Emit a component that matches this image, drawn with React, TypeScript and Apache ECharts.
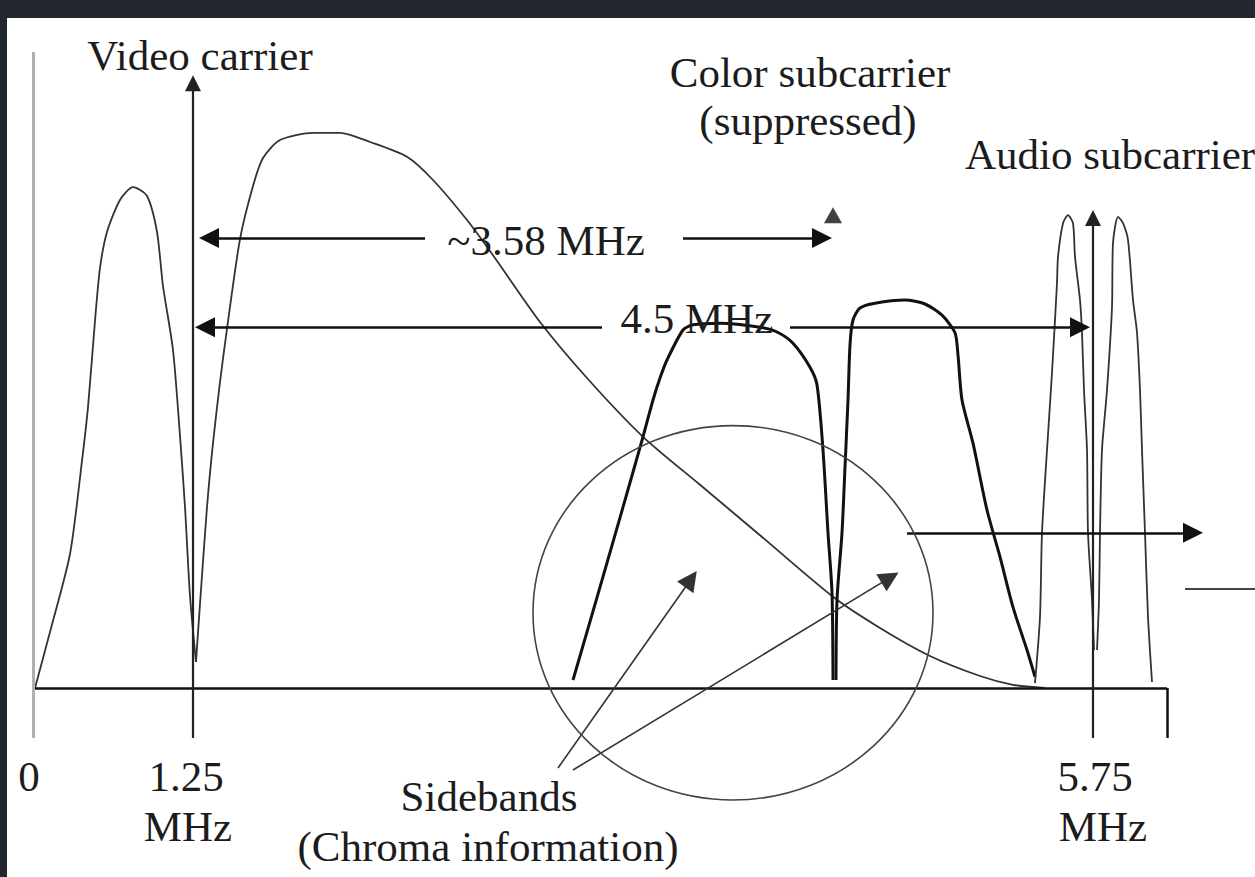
import React, { useEffect, useRef } from "react";
import * as echarts from "echarts";

// Diagram coordinates: x in MHz (schematic), y in relative amplitude.
const X_MIN = 0.285;
const X_MAX = 6.56;
const Y_MIN = -23.625;
const Y_MAX = 86;

// Video carrier: vestigial lower sideband lobe
const videoLowerLobe: [number, number][] = [
  [0.46, 0], [0.535, 7.0], [0.635, 16.75], [0.695, 28.4], [0.725, 35.1], [0.76, 45.9],
  [0.785, 52.5], [0.82, 57.0], [0.885, 61.0], [0.95, 62.6], [1.02, 61.5], [1.07, 57.0],
  [1.1, 50.25], [1.15, 42.25], [1.185, 31.5], [1.21, 22.6], [1.235, 11.5], [1.265, 3.25],
];

// Video carrier: upper sideband (luma)
const videoUpperBand: [number, number][] = [
  [1.265, 3.25], [1.285, 10.5], [1.32, 22.6], [1.35, 30.6], [1.385, 38.25], [1.42, 44.9],
  [1.485, 56.1], [1.55, 62.75], [1.6, 66.25], [1.685, 68.5], [1.85, 69.4], [1.985, 69.4],
  [2.135, 68.25], [2.32, 66.4], [2.45, 63.5], [2.62, 58.5], [2.75, 54.1], [2.985, 45.75],
  [3.22, 38.75], [3.5, 31.4], [3.785, 25.4], [4.085, 19.1], [4.45, 11.4], [4.685, 7.5],
  [4.935, 4.0], [5.185, 1.5], [5.35, 0.4], [5.51, 0],
];

// Chroma sidebands around the suppressed colour subcarrier
const chromaLower: [number, number][] = [
  [3.15, 1.0], [3.285, 12.6], [3.4, 22.6], [3.5, 31.4], [3.55, 36], [3.585, 38.75], [3.62, 41],
  [3.7, 44.75], [3.75, 45.4], [3.885, 45.6], [4.085, 45.1], [4.17, 44.5], [4.25, 43.1],
  [4.335, 40.1], [4.37, 37.9], [4.4, 29.75], [4.425, 19.4], [4.445, 11.9], [4.45, 1.0],
];
const chromaUpper: [number, number][] = [
  [4.465, 1.0], [4.47, 11], [4.495, 19.4], [4.51, 27.6], [4.525, 36], [4.535, 42.9], [4.55, 46],
  [4.585, 47.5], [4.66, 48.1], [4.81, 48.5], [4.91, 48], [4.995, 46.6], [5.06, 44.4],
  [5.075, 41.6], [5.095, 36], [5.15, 30.6], [5.22, 22.25], [5.285, 16.4], [5.35, 10.1],
  [5.42, 4.75], [5.46, 1.4],
];

// Audio (FM) subcarrier lobes
const audioLower: [number, number][] = [
  [5.46, 0.6], [5.485, 8.9], [5.495, 19.4], [5.52, 29.75], [5.545, 39.4], [5.57, 50.6],
  [5.575, 53.9], [5.6, 58.1], [5.625, 59.1], [5.65, 58.1], [5.66, 53.9], [5.685, 48.5],
  [5.695, 44.4], [5.705, 37.25], [5.72, 29.75], [5.725, 19.4], [5.745, 11], [5.755, 4.75],
];
const audioUpper: [number, number][] = [
  [5.77, 4.75], [5.78, 11], [5.785, 19.4], [5.795, 29.75], [5.82, 37.25], [5.845, 47.6],
  [5.85, 55.6], [5.875, 58.9], [5.9, 58.1], [5.925, 56], [5.95, 48.5], [5.97, 44.4],
  [5.985, 37.25], [5.995, 29.75], [6.01, 19.4], [6.025, 8.9], [6.045, 0.75],
];

// Rules and arrows (coords in diagram units)
const grayRule: [number, number][][] = [[[0.45, 79.5], [0.45, -6.25]]];
const blackRules: [number, number][][] = [
  [[0.46, 0], [6.12, 0]],
  [[6.12, 0], [6.12, -6.25]],
];
const thinRules: [number, number][][] = [[[6.21, 12.4], [6.56, 12.4]]];
const carrierArrows: [number, number][][] = [
  [[1.25, -6.25], [1.25, 75.6]],
  [[5.75, -6.25], [5.75, 58.75]],
];
const spanArrows: [number, number][][] = [
  [[2.41, 56.25], [1.33, 56.25]],
  [[3.7, 56.25], [4.395, 56.25]],
  [[3.295, 45.1], [1.31, 45.1]],
  [[4.235, 45.1], [5.685, 45.1]],
  [[4.82, 19.4], [6.25, 19.4]],
];
const pointerArrows: [number, number][][] = [
  [[3.075, -10], [3.74, 13.6]],
  [[3.15, -10.25], [4.735, 13.8]],
];
const colorSubcarrierMark: [number, number][] = [[4.45, 59.1]];

// Circle around the chroma sidebands: centre and radii
const chromaCircle = { cx: 3.95, cy: 9.4, rx: 1.0, ry: 23.4 };

// Texts
const labels: { text: string; x: number; y: number; align?: string }[] = [
  { text: "Video carrier", x: 1.285, y: 79.1 },
  { text: "Color subcarrier", x: 4.335, y: 77 },
  { text: "(suppressed)", x: 4.325, y: 70.9 },
  { text: "Audio subcarrier", x: 5.11, y: 66.75, align: "left" },
  { text: "~3.58 MHz", x: 3.015, y: 55.9 },
  { text: "4.5 MHz", x: 3.77, y: 46.25 },
  { text: "Sidebands", x: 2.73, y: -13.6 },
  { text: "(Chroma information)", x: 2.725, y: -19.75 },
];
const tickLabels: { text: string; x: number; y: number }[] = [
  { text: "0", x: 0.43, y: -11.1 },
  { text: "1.25", x: 1.215, y: -11.1 },
  { text: "MHz", x: 1.225, y: -17.25 },
  { text: "5.75", x: 5.76, y: -11.1 },
  { text: "MHz", x: 5.8, y: -17.25 },
];

const FONT = "'Liberation Serif', 'Times New Roman', serif";

export default function App() {
  const ref = useRef<HTMLDivElement>(null);
  useEffect(() => {
    const chart = echarts.init(ref.current as HTMLDivElement, null, { renderer: "svg" });
    const curve = (data: [number, number][], color: string, width: number) => ({
      type: "line",
      data,
      showSymbol: false,
      smooth: 0.25,
      silent: true,
      z: 3,
      lineStyle: { color, width },
    });
    const lines = (
      data: [number, number][][],
      color: string,
      width: number,
      symbol: string[],
      symbolSize: number[]
    ) => ({
      type: "lines",
      coordinateSystem: "cartesian2d",
      silent: true,
      z: 4,
      symbol,
      symbolSize,
      lineStyle: { color, width, opacity: 1, curveness: 0 },
      data: data.map((c) => ({ coords: c })),
    });
    chart.setOption({
      animation: false,
      backgroundColor: "#23282e",
      grid: { left: 0, right: 0, top: 0, bottom: 0 },
      xAxis: { type: "value", min: X_MIN, max: X_MAX, show: false },
      yAxis: { type: "value", min: Y_MIN, max: Y_MAX, show: false },
      series: [
        curve(videoLowerLobe, "#333", 1.8),
        curve(videoUpperBand, "#333", 1.8),
        curve(chromaLower, "#111", 3),
        curve(chromaUpper, "#111", 3),
        curve(audioLower, "#333", 1.8),
        curve(audioUpper, "#333", 1.8),
        lines(grayRule, "#b0b0b0", 3, ["none", "none"], [1, 1]),
        lines(blackRules, "#111", 2.5, ["none", "none"], [1, 1]),
        lines(thinRules, "#444", 2, ["none", "none"], [1, 1]),
        lines(carrierArrows, "#222", 2.2, ["none", "triangle"], [20, 16]),
        lines(spanArrows, "#111", 2.5, ["none", "triangle"], [16, 20]),
        lines(pointerArrows, "#333", 1.6, ["none", "triangle"], [18, 20]),
        {
          type: "scatter",
          data: colorSubcarrierMark,
          symbol: "triangle",
          symbolSize: [18, 16],
          silent: true,
          z: 5,
          itemStyle: { color: "#111" },
        },
      ],
    });

    const px = (p: [number, number]) =>
      chart.convertToPixel({ gridIndex: 0 }, p) as unknown as number[];

    const c = px([chromaCircle.cx, chromaCircle.cy]);
    const e = px([chromaCircle.cx + chromaCircle.rx, chromaCircle.cy + chromaCircle.ry]);

    const textEl = (t: { text: string; x: number; y: number; align?: string }) => {
      const p = px([t.x, t.y]);
      return {
        type: "text",
        x: p[0],
        y: p[1],
        z: 20,
        silent: true,
        style: {
          text: t.text,
          fill: "#1c1c1c",
          fontSize: 43,
          fontFamily: FONT,
          align: t.align || "center",
          verticalAlign: "middle",
        },
      };
    };

    chart.setOption({
      graphic: {
        elements: [
          {
            type: "rect",
            z: -10,
            silent: true,
            shape: { x: 7, y: 18, width: 1248, height: 859 },
            style: { fill: "#ffffff" },
          },
          {
            type: "ellipse",
            z: 10,
            silent: true,
            shape: { cx: c[0], cy: c[1], rx: Math.abs(e[0] - c[0]), ry: Math.abs(c[1] - e[1]) },
            style: { fill: "none", stroke: "#444", lineWidth: 1.6 },
          },
          ...labels.map(textEl),
          ...tickLabels.map(textEl),
        ],
      },
    });

    return () => chart.dispose();
  }, []);
  return (
    <div
      ref={ref}
      style={{ position: "absolute", left: 0, top: 0, width: 1255, height: 877 }}
    />
  );
}
